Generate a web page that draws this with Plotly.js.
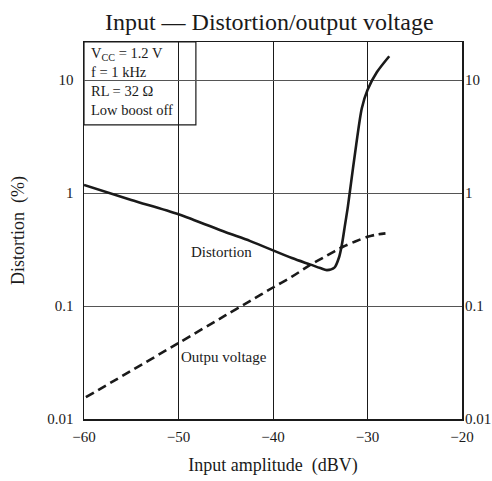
<!DOCTYPE html>
<html>
<head>
<meta charset="utf-8">
<script src="https://cdn.plot.ly/plotly-3.0.1.min.js"></script>
<style>html,body{margin:0;padding:0;background:#fff;}#chart{width:492px;height:481px;}</style>
</head>
<body>
<div id="chart"></div>
<script>
// Distortion (%) vs input amplitude (dBV)
const distX = [-60, -55, -50, -45, -42.4, -38, -36.1, -35, -34.3, -33.5, -33.0, -32.7, -32.4, -32.1, -31.9, -31.2, -30.6, -30.0, -29.0, -27.7];
const distY = [1.18, 0.87, 0.65, 0.45, 0.376, 0.266, 0.234, 0.217, 0.208, 0.219, 0.272, 0.354, 0.51, 0.736, 0.98, 2.66, 5.65, 8.2, 11.8, 16.3];
// Output voltage curve
const outX = [-59.8, -50, -45, -42.4, -40, -38, -36.1, -34.3, -32.6, -31.3, -30, -29, -28.1];
const outY = [0.0156, 0.047, 0.083, 0.111, 0.146, 0.182, 0.23, 0.28, 0.335, 0.373, 0.41, 0.43, 0.44];
// Axis ticks
const xTicks = [-60, -50, -40, -30, -20];
const xTickText = ['\u221260', '\u221250', '\u221240', '\u221230', '\u221220'];
const yTicks = [0.01, 0.1, 1, 10];
const yTickText = ['0.01', '0.1', '1', '10'];

const serif = '"Liberation Serif", "Times New Roman", Times, serif';
const yRange = [-2, 1.338];

const traces = [
  {x: distX, y: distY, type: 'scatter', mode: 'lines',
   line: {color: '#1a1a1a', width: 2.6, shape: 'spline', smoothing: 0.8}, hoverinfo: 'skip'},
  {x: outX, y: outY, type: 'scatter', mode: 'lines',
   line: {color: '#1a1a1a', width: 2.6, dash: '9px,5px', shape: 'spline', smoothing: 0.8}, hoverinfo: 'skip'},
  {x: [], y: [], yaxis: 'y2', type: 'scatter', mode: 'lines', hoverinfo: 'skip'}
];

const layout = {
  width: 492, height: 481,
  margin: {l: 84, r: 30, t: 42, b: 62},
  paper_bgcolor: '#fff', plot_bgcolor: '#fff',
  showlegend: false,
  font: {family: serif, color: '#1a1a1a', size: 15},
  title: {text: 'Input \u2014 Distortion/output voltage', font: {family: serif, size: 24, color: '#1a1a1a'},
          xref: 'paper', x: 0.49, xanchor: 'center', yref: 'container', y: 0.955, yanchor: 'middle'},
  xaxis: {
    range: [-60, -20], tickvals: xTicks, ticktext: xTickText, ticks: '',
    showgrid: true, gridcolor: '#1a1a1a', gridwidth: 1,
    showline: true, linecolor: '#1a1a1a', linewidth: 1.5, mirror: true,
    zeroline: false, ticklabelstandoff: 3,
    tickfont: {family: serif, size: 15, color: '#1a1a1a'},
    title: {text: 'Input amplitude\u2002(dBV)', font: {family: serif, size: 18, color: '#1a1a1a'}, standoff: 15}
  },
  yaxis: {
    type: 'log', range: yRange, tickvals: yTicks, ticktext: yTickText, ticks: '',
    showgrid: true, gridcolor: '#555', gridwidth: 1,
    showline: true, linecolor: '#1a1a1a', linewidth: 1.5, mirror: true,
    zeroline: false, ticklabelstandoff: 6,
    tickfont: {family: serif, size: 15, color: '#1a1a1a'},
    title: {text: 'Distortion\u2002(%)', font: {family: serif, size: 18, color: '#1a1a1a'}, standoff: 18}
  },
  yaxis2: {
    type: 'log', range: yRange, tickvals: yTicks, ticktext: yTickText, ticks: '',
    overlaying: 'y', side: 'right', showgrid: false, showline: false, zeroline: false,
    ticklabelstandoff: 2,
    tickfont: {family: serif, size: 15, color: '#1a1a1a'}
  },
  shapes: [
    {type: 'rect', xref: 'paper', yref: 'paper', x0: 0, x1: 0.296, y0: 0.78, y1: 1,
     line: {color: '#1a1a1a', width: 1.2}, fillcolor: '#fff', layer: 'below'}
  ],
  annotations: [
    {xref: 'paper', yref: 'paper', x: 0.012, y: 0.997, xanchor: 'left', yanchor: 'top', align: 'left', showarrow: false,
     text: 'V<sub>CC</sub> = 1.2 V<br>f = 1 kHz<br>RL = 32 \u03a9<br>Low boost off',
     font: {family: serif, size: 14.5, color: '#1a1a1a'}},
    {xref: 'x', yref: 'y', x: -45.5, y: Math.log10(0.303), showarrow: false, text: 'Distortion',
     font: {family: serif, size: 15, color: '#1a1a1a'}},
    {xref: 'x', yref: 'y', x: -45.2, y: Math.log10(0.0356), showarrow: false, text: 'Outpu voltage',
     font: {family: serif, size: 15, color: '#1a1a1a'}}
  ]
};

Plotly.newPlot('chart', traces, layout, {staticPlot: true, displayModeBar: false});
</script>
</body>
</html>
